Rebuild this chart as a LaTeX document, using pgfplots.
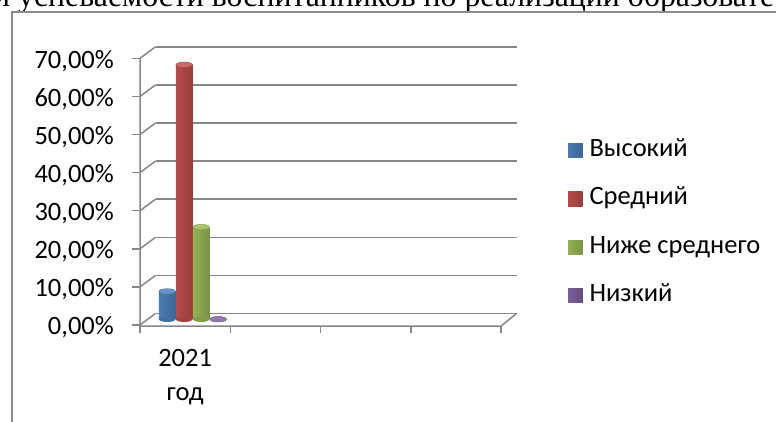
\documentclass[border=0pt]{standalone}
\usepackage{pgfplots}
\pgfplotsset{compat=1.18}
\usepackage{fontspec}
\setmainfont{Carlito}
\newfontfamily\titlefont{Liberation Serif}
\usetikzlibrary{shapes.geometric}
\definecolor{cblue}{HTML}{4F81BD}
\definecolor{cred}{HTML}{C0504D}
\definecolor{cgreen}{HTML}{9BBB59}
\definecolor{cpurple}{HTML}{8064A2}
\definecolor{gridc}{RGB}{134,134,134}
\definecolor{framec}{RGB}{140,140,140}
\pgfplotsset{
  wall/.style={draw=gridc, line width=1.5pt, no marks, forget plot},
  cyl/.style 2 args={ybar, bar width=16.5pt, bar shift=#2, draw=none,
    left color=#1!95!black, middle color=#1!85!white, right color=#1!78!black,
    nodes near coords={},
    every node near coord/.append style={ellipse, fill=#1!85!white, draw=#1!85!black, line width=0.4pt,
      minimum width=16.5pt, minimum height=5.5pt, inner sep=0pt, anchor=center, xshift=#2},
    legend image code/.code={\fill[#1] (0pt,-7.2pt) rectangle (14.5pt,7.2pt);}},
  cylbase/.style 2 args={ybar, forget plot, bar width=16.5pt, bar shift=#2, draw=none, fill=none,
    nodes near coords={},
    every node near coord/.append style={ellipse, fill=#1!85!black, draw=none,
      minimum width=16.5pt, minimum height=5.5pt, inner sep=0pt, anchor=center, xshift=#2}},
}
\begin{document}
\begin{tikzpicture}[x=1pt,y=1pt]
\node[anchor=base west, inner sep=0pt, font=\titlefont\fontsize{31.8}{36}\selectfont] at (-7,415) {и успеваемости воспитанников по реализации образовате};
\begin{axis}[
  at={(140pt,102.75pt)}, anchor=south west,
  x=90.25pt, y=3.81pt,
  xmin=-0.5, xmax=3.5, ymin=0, ymax=70,
  clip=false,
  axis line style={draw=none},
  major tick style={draw=none},
  ytick={0,10,20,30,40,50,60,70},
  yticklabels={{0,00\%},{10,00\%},{20,00\%},{30,00\%},{40,00\%},{50,00\%},{60,00\%},{70,00\%}},
  yticklabel style={anchor=base east, inner sep=0pt, xshift=-26pt, yshift=-15.75pt, font=\fontsize{26.5}{30}\selectfont},
  xtick={0}, xticklabels={{2021\\год}},
  xticklabel style={align=center, anchor=base, inner sep=0pt, yshift=-81.05pt, font=\fontsize{26.5}{33.3}\selectfont},
  unbounded coords=jump,
  legend style={at={(axis cs:4.2424,47.39)}, anchor=north west, draw=none, fill=none,
    inner sep=0pt, outer sep=0pt, row sep=24.3pt, font=\fontsize{26.5}{30}\selectfont,
    nodes={inner sep=0pt, text height=18pt, text depth=6pt},
    /tikz/every odd column/.append style={column sep=7pt}},
  legend cell align=left,
]
% back wall gridlines
\addplot[wall, xshift=15.5pt, yshift=5.75pt] coordinates {
 (-0.5,0)(3.5,0) (0,nan) (-0.5,10)(3.5,10) (0,nan) (-0.5,20)(3.5,20) (0,nan)
 (-0.5,30)(3.5,30) (0,nan) (-0.5,40)(3.5,40) (0,nan) (-0.5,50)(3.5,50) (0,nan)
 (-0.5,60)(3.5,60) (0,nan) (-0.5,70)(3.5,70)};
% side wall diagonals
\addplot[wall, yshift=-5.75pt] coordinates {
 (-0.5,0)(-0.32825,3.0184) (0,nan) (-0.5,10)(-0.32825,13.0184) (0,nan)
 (-0.5,20)(-0.32825,23.0184) (0,nan) (-0.5,30)(-0.32825,33.0184) (0,nan)
 (-0.5,40)(-0.32825,43.0184) (0,nan) (-0.5,50)(-0.32825,53.0184) (0,nan)
 (-0.5,60)(-0.32825,63.0184) (0,nan) (-0.5,70)(-0.32825,73.0184)};
% y ticks
\addplot[wall, yshift=-5.75pt] coordinates {
 (-0.5886,0)(-0.5,0) (0,nan) (-0.5886,10)(-0.5,10) (0,nan) (-0.5886,20)(-0.5,20) (0,nan)
 (-0.5886,30)(-0.5,30) (0,nan) (-0.5886,40)(-0.5,40) (0,nan) (-0.5886,50)(-0.5,50) (0,nan)
 (-0.5886,60)(-0.5,60) (0,nan) (-0.5886,70)(-0.5,70)};
% front axis and floor
\addplot[wall, yshift=-5.75pt] coordinates {(-0.5,70)(-0.5,-0.3)(3.5,-0.3)(3.67175,3.0184)};
% category ticks
\addplot[wall, yshift=-5.75pt] coordinates {
 (-0.5,-0.3)(-0.5,-2.03) (0,nan) (0.5,-0.3)(0.5,-2.03) (0,nan) (1.5,-0.3)(1.5,-2.03) (0,nan)
 (2.5,-0.3)(2.5,-2.03) (0,nan) (3.5,-0.3)(3.5,-2.03)};
% cylinder bases
\addplot[cylbase={cblue}{-17.9pt}] coordinates {(0,0)};
\addplot[cylbase={cred}{-0.9pt}] coordinates {(0,0)};
\addplot[cylbase={cgreen}{16.1pt}] coordinates {(0,0)};
\addplot[cylbase={cpurple}{33.1pt}] coordinates {(0,0)};
% cylinders
\addplot[cyl={cblue}{-17.9pt}] coordinates {(0,7.3)};
\addlegendentry{Высокий}
\addplot[cyl={cred}{-0.9pt}] coordinates {(0,66.8)};
\addlegendentry{Средний}
\addplot[cyl={cgreen}{16.1pt}] coordinates {(0,24.2)};
\addlegendentry{Ниже среднего}
\addplot[cyl={cpurple}{33.1pt}] coordinates {(0,0)};
\addlegendentry{Низкий}
\end{axis}
\draw[framec, line width=1.5pt] (12,-5) -- (12,410) -- (785,410);
\pgfresetboundingbox
\path[use as bounding box] (0,0) rectangle (776,422);
\end{tikzpicture}
\end{document}
